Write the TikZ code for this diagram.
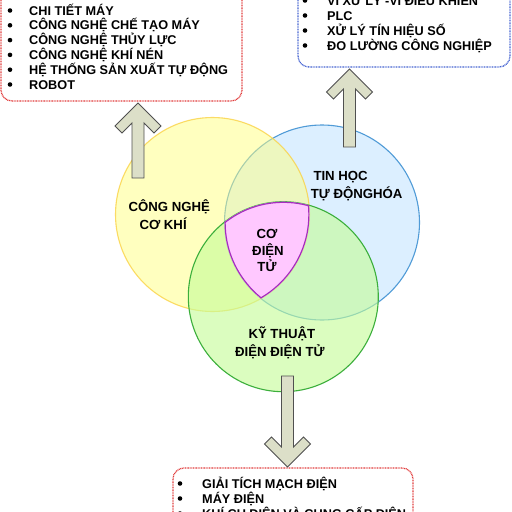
\documentclass[tikz,border=0pt]{standalone}
\usepackage{fontspec}
\setmainfont{Liberation Sans}
\definecolor{yfill}{RGB}{255,255,129}
\definecolor{ydraw}{RGB}{250,210,70}
\definecolor{bfill}{RGB}{187,225,255}
\definecolor{bdraw}{RGB}{80,155,215}
\definecolor{gfill}{RGB}{197,253,153}
\definecolor{gdraw}{RGB}{60,175,60}
\definecolor{pfill}{RGB}{255,200,255}
\definecolor{pdraw}{RGB}{165,45,190}
\definecolor{afill}{RGB}{220,223,200}
\definecolor{adraw}{RGB}{80,80,80}
\definecolor{redb}{RGB}{225,60,60}
\definecolor{blueb}{RGB}{70,100,210}
\newcommand\uparrowshape[3]{%
  \filldraw[arrowshape] (#1,#2) -- (#1-23,#2+23) -- (#1-16,#2+30) -- (#1-6,#2+20)
    -- (#1-6,#3) -- (#1+6,#3) -- (#1+6,#2+20) -- (#1+16,#2+30) -- (#1+23,#2+23) -- cycle;}
\newcommand\downarrowshape[3]{%
  \filldraw[arrowshape] (#1,#2) -- (#1-23,#2-23) -- (#1-16,#2-30) -- (#1-6,#2-20)
    -- (#1-6,#3) -- (#1+6,#3) -- (#1+6,#2-20) -- (#1+16,#2-30) -- (#1+23,#2-23) -- cycle;}
\begin{document}
\begin{tikzpicture}[x=1pt,y=-1pt,
  item/.style={anchor=base west, font=\fontsize{12.7}{14}\selectfont\bfseries, inner sep=0pt},
  bul/.style={circle, fill=black, inner sep=0pt, minimum size=4.6pt},
  lbl/.style={anchor=base west, font=\fontsize{13.2}{15}\selectfont\bfseries, inner sep=0pt},
  clbl/.style={anchor=base, font=\fontsize{13.2}{15}\selectfont\bfseries, inner sep=0pt},
  arrowshape/.style={fill=afill, draw=adraw, line width=0.9pt, line join=miter},
  dotbox/.style={line width=1.3pt, dash pattern=on 0.9pt off 0.7pt, rounded corners=11pt}]
\useasboundingbox (0,0) rectangle (512,512);
\fill[white] (0,0) rectangle (512,512);
% boxes
\draw[dotbox, draw=redb] (1,-30) rectangle (242,101);
\draw[dotbox, draw=blueb] (298,-30) rectangle (510,67);
\draw[dotbox, draw=redb] (173,468) rectangle (413,540);
% top-left list
\foreach \t/\y [count=\i] in {CHI TIẾT MÁY/15, CÔNG NGHỆ CHẾ TẠO MÁY/29.8, CÔNG NGHỆ THỦY LỰC/44.6, CÔNG NGHỆ KHÍ NÉN/59.4, HỆ THỐNG SẢN XUẤT TỰ ĐỘNG/74.2, ROBOT/89}{
  \node[bul] (lb\i) at (10,\y-4.5) {};
  \node[item] (lt\i) at (29,\y) {\t};}
% top-right list
\foreach \t/\y [count=\i] in {VI XỬ LÝ -VI ĐIỀU KHIỂN/5, PLC/20, XỬ LÝ TÍN HIỆU SỐ/35, ĐO LƯỜNG CÔNG NGHIỆP/50}{
  \node[bul] (rb\i) at (305,\y-4.5) {};
  \node[item] (rt\i) at (327,\y) {\t};}
% bottom list
\foreach \t/\y [count=\i] in {GIẢI TÍCH MẠCH ĐIỆN/488, MÁY ĐIỆN/503, KHÍ CỤ ĐIỆN VÀ CUNG CẤP ĐIỆN/518}{
  \node[bul] (bb\i) at (180,\y-4.5) {};
  \node[item] (bt\i) at (202,\y) {\t};}
% circles: blue, then yellow, then green
\fill[bfill, fill opacity=0.5] (322,222.5) circle[radius=97.5pt];
\draw[bdraw, line width=1.1pt] (322,222.5) circle[radius=97.5pt];
\fill[yfill, fill opacity=0.5] (212.5,214.5) circle[radius=97pt];
\draw[ydraw, line width=1.1pt, draw opacity=0.8] (212.5,214.5) circle[radius=97pt];
\fill[gfill, fill opacity=0.62] (283.3,296.7) circle[radius=95pt];
\draw[gdraw, line width=1.1pt] (283.3,296.7) circle[radius=95pt];
\begin{scope}
  \clip (212.5,214.5) circle[radius=97pt];
  \clip (322,222.5) circle[radius=97.5pt];
  \clip (283.3,296.7) circle[radius=95pt];
  \fill[pfill] (0,0) rectangle (512,512);
  \draw[pdraw, line width=2.4pt] (212.5,214.5) circle[radius=97pt];
  \draw[pdraw, line width=2.4pt] (322,222.5) circle[radius=97.5pt];
  \draw[pdraw, line width=2.4pt] (283.3,296.7) circle[radius=95pt];
\end{scope}
% arrows
\uparrowshape{138}{103}{178}
\uparrowshape{349.5}{69}{147}
\downarrowshape{287.5}{467}{376}
% labels
\node[lbl] (cn1) at (128.3,211) {CÔNG NGHỆ};
\node[lbl] (cn2) at (139.3,229) {CƠ KHÍ};
\node[lbl] (th1) at (313.3,180) {TIN HỌC};
\node[lbl] (th2) at (310.7,198) {TỰ ĐỘNGHÓA};
\node[clbl] (cd1) at (267,238) {CƠ};
\node[clbl] (cd2) at (268,255) {ĐIỆN};
\node[clbl] (cd3) at (267,271.7) {TỬ};
\node[lbl] (kt1) at (248.3,338) {KỸ THUẬT};
\node[lbl] (kt2) at (235,356.7) {ĐIỆN ĐIỆN TỬ};
\end{tikzpicture}
\end{document}
